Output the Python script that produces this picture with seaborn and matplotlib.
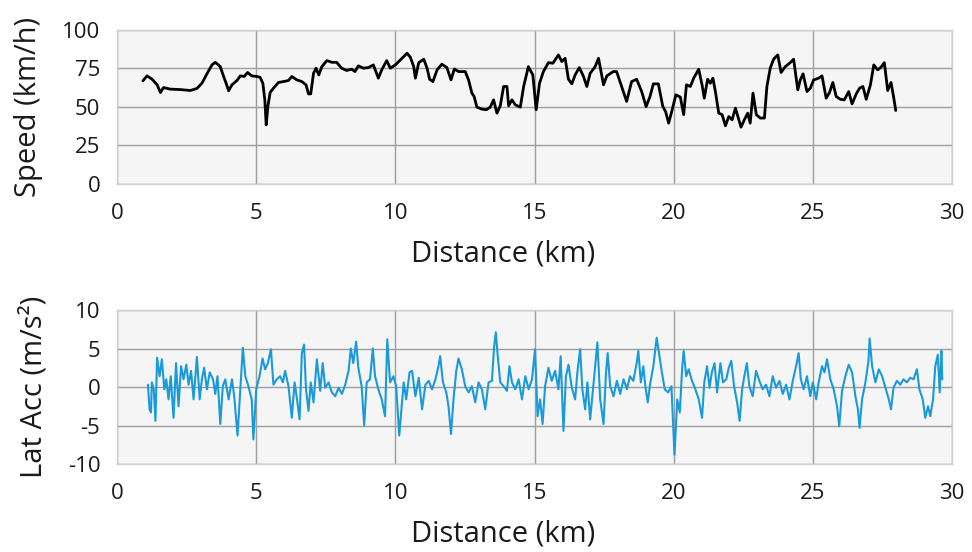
import numpy as np
import pandas as pd
import seaborn as sns
import matplotlib.pyplot as plt

# =========================
# DADOS
# =========================

dist_vel = [0.93, 1.08, 1.26, 1.44, 1.56, 1.67, 1.91, 2.27, 2.63, 2.87, 3.05, 3.23, 3.41, 3.53,
            3.71, 3.83, 3.92, 4.01, 4.13, 4.31, 4.43, 4.57, 4.69, 4.84, 5.02, 5.14, 5.24, 5.31,
            5.36, 5.42, 5.50, 5.62, 5.80, 5.98, 6.16, 6.28, 6.46, 6.64, 6.79, 6.88, 6.96, 7.06,
            7.15, 7.25, 7.36, 7.54, 7.72, 7.89, 8.07, 8.25, 8.43, 8.55, 8.67, 8.85, 9.03, 9.21,
            9.39, 9.51, 9.69, 9.82, 10.0, 10.18, 10.42, 10.54, 10.66, 10.72, 10.84, 11.02, 11.14,
            11.23, 11.35, 11.50, 11.67, 11.85, 12.0, 12.12, 12.27, 12.51, 12.63, 12.75, 12.83,
            12.93, 13.11, 13.27, 13.41, 13.53, 13.65, 13.77, 13.89, 14.01, 14.07, 14.19, 14.31,
            14.49, 14.61, 14.78, 14.94, 15.06, 15.18, 15.32, 15.50, 15.66, 15.86, 15.98, 16.10,
            16.22, 16.34, 16.46, 16.61, 16.76, 16.88, 17.0, 17.18, 17.30, 17.38, 17.48, 17.60,
            17.83, 17.95, 18.05, 18.19, 18.31, 18.49, 18.67, 18.85, 19.01, 19.15, 19.27, 19.45,
            19.61, 19.71, 19.82, 19.93, 20.08, 20.24, 20.36, 20.46, 20.60, 20.72, 20.90, 21.02,
            21.10, 21.22, 21.32, 21.41, 21.50, 21.62, 21.74, 21.86, 21.98, 22.10, 22.22, 22.34,
            22.42, 22.54, 22.66, 22.75, 22.85, 22.97, 23.11, 23.26, 23.35, 23.47, 23.59, 23.74,
            23.86, 24.01, 24.19, 24.31, 24.46, 24.55, 24.65, 24.79, 24.91, 25.03, 25.21, 25.33,
            25.48, 25.60, 25.72, 25.84, 25.99, 26.13, 26.29, 26.41, 26.56, 26.68, 26.80, 26.92,
            27.07, 27.19, 27.33, 27.45, 27.57, 27.69, 27.81, 27.90, 27.98]

velocidade = [67.0, 70.2, 68.0, 64.4, 59.4, 62.6, 61.6, 61.3, 60.7, 62.0, 65.4, 71.5, 77.3, 79.0,
              76.2, 69.8, 65.4, 60.5, 64.4, 67.2, 70.2, 69.8, 72.4, 70.2, 69.8, 69.3, 65.4, 54.6,
              38.4, 50.3, 59.4, 62.2, 65.9, 66.5, 67.2, 69.8, 67.6, 66.5, 64.4, 58.5, 58.5, 71.9,
              75.2, 70.8, 76.2, 80.1, 79.0, 79.0, 75.2, 73.7, 74.5, 73.0, 76.7, 75.2, 75.6, 77.3,
              68.7, 74.1, 80.1, 75.2, 77.3, 80.6, 84.9, 82.3, 76.2, 68.7, 78.8, 81.0, 75.2,
              68.0, 66.5, 74.1, 77.8, 75.6, 67.6, 74.7, 73.0, 73.0, 67.6, 59.0, 56.8,
              49.9, 48.6, 48.2, 49.9, 54.6, 46.0, 50.8, 63.3, 63.3, 50.8, 54.6, 51.4,
              49.9, 63.3, 76.2, 70.8, 48.2, 65.4, 73.0, 78.8, 78.4, 83.8, 79.5, 81.6,
              68.0, 65.0, 70.8, 75.6, 69.8, 63.3, 71.9, 76.2, 81.6, 74.1, 64.4, 70.2,
              73.0, 73.0, 67.6, 60.0, 53.6, 66.5, 68.0, 60.0, 50.3, 56.8, 65.0, 65.0,
              50.3, 47.0, 39.5, 47.0, 57.9, 56.4, 45.0, 64.4, 63.3, 68.7, 74.5, 64.4,
              55.7, 68.0, 65.4, 68.7, 60.0, 46.0, 45.0, 37.8, 43.8, 41.7, 49.2, 41.7,
              36.9, 41.7, 46.0, 39.5, 59.0, 45.0, 42.8, 42.8, 63.3, 75.2, 81.0, 83.8,
              72.4, 76.2, 78.8, 81.0, 61.1, 67.6, 71.5, 60.0, 62.2, 67.6, 68.7, 70.2,
              55.7, 59.4, 65.9, 56.8, 55.0, 54.6, 60.0, 52.0, 58.5, 62.2, 63.3, 55.0,
              64.4, 77.3, 74.1, 75.8, 78.8, 60.7, 65.9, 56.8, 47.7]

dist_acc = [1.11, 1.17, 1.22, 1.25, 1.32, 1.38, 1.44, 1.53, 1.61, 1.70, 1.77, 1.85, 1.93, 2.03,
            2.12, 2.21, 2.30, 2.39, 2.49, 2.57, 2.66, 2.75, 2.87, 2.97, 3.05, 3.13, 3.23, 3.33,
            3.45, 3.53, 3.61, 3.71, 3.80, 3.89, 4.01, 4.13, 4.21, 4.33, 4.43, 4.52, 4.61, 4.72,
            4.84, 4.90, 5.00, 5.12, 5.23, 5.32, 5.42, 5.53, 5.62, 5.74, 5.86, 5.96, 6.04, 6.16,
            6.28, 6.38, 6.46, 6.56, 6.64, 6.72, 6.79, 6.88, 6.96, 7.06, 7.18, 7.30, 7.39, 7.48,
            7.60, 7.72, 7.84, 7.96, 8.08, 8.20, 8.32, 8.40, 8.49, 8.59, 8.67, 8.79, 8.88, 8.97,
            9.09, 9.19, 9.27, 9.39, 9.51, 9.63, 9.71, 9.81, 9.93, 10.03, 10.14, 10.30, 10.39,
            10.51, 10.60, 10.72, 10.84, 10.96, 11.08, 11.20, 11.32, 11.44, 11.55, 11.61, 11.71,
            11.83, 11.91, 12.0, 12.09, 12.19, 12.27, 12.39, 12.51, 12.63, 12.75, 12.87, 12.99,
            13.11, 13.23, 13.35, 13.47, 13.55, 13.61, 13.67, 13.77, 13.89, 14.01, 14.10, 14.19,
            14.31, 14.43, 14.55, 14.67, 14.79, 14.91, 15.02, 15.11, 15.20, 15.29, 15.38, 15.50,
            15.62, 15.74, 15.86, 15.94, 16.04, 16.13, 16.22, 16.34, 16.46, 16.54, 16.64, 16.72,
            16.82, 16.90, 17.0, 17.17, 17.26, 17.36, 17.48, 17.57, 17.63, 17.72, 17.84, 17.96,
            18.08, 18.20, 18.32, 18.43, 18.55, 18.67, 18.73, 18.82, 18.91, 18.99, 19.07, 19.15,
            19.27, 19.39, 19.48, 19.56, 19.68, 19.80, 19.92, 20.03, 20.13, 20.22, 20.31, 20.36,
            20.45, 20.54, 20.66, 20.78, 20.90, 21.02, 21.10, 21.20, 21.29, 21.37, 21.47, 21.56,
            21.68, 21.77, 21.89, 21.98, 22.07, 22.17, 22.28, 22.37, 22.46, 22.54, 22.63, 22.72,
            22.84, 22.96, 23.08, 23.20, 23.32, 23.44, 23.56, 23.68, 23.80, 23.92, 24.04, 24.16,
            24.28, 24.41, 24.49, 24.57, 24.67, 24.79, 24.91, 25.0, 25.12, 25.21, 25.33, 25.42,
            25.51, 25.63, 25.75, 25.87, 25.95, 26.05, 26.17, 26.29, 26.41, 26.53, 26.62, 26.68,
            26.77, 26.89, 27.0, 27.04, 27.13, 27.25, 27.37, 27.49, 27.61, 27.73, 27.81, 27.90,
            28.02, 28.14, 28.26, 28.38, 28.50, 28.62, 28.74, 28.83, 28.95, 29.04, 29.14, 29.22,
            29.32, 29.40, 29.49, 29.56, 29.62, 29.65]

acel_lat = [0.3, -2.9, -3.3, 0.6, -0.3, -4.4, 3.8, 1.4, 3.6, -0.3, 1.0, -1.6, 1.4, -4.0,
            3.1, -2.5, 2.7, 1.0, 2.9, 0.3, 2.1, -1.6, 3.9, -1.6, 1.0, 2.5, -0.3, 1.9,
            1.0, -0.9, 1.4, -4.8, 0.1, 1.0, -1.6, 1.0, -1.2, -6.3, -0.3, 5.1, 1.4, 0.1,
            -1.6, -6.8, -0.3, 1.4, 3.7, 2.3, 3.1, 4.9, 0.3, 1.0, 1.4, 0.6, 2.1, 0.1,
            -4.0, 0.6, -1.4, -4.2, 4.4, 5.5, -0.3, -3.1, 0.6, -2.0, 3.6, -0.5, 3.1, -0.1,
            0.6, -0.7, -1.2, -0.1, -0.9, 0.3, 2.1, 5.0, 3.1, 5.9, 2.5, 0.1, -5.0, 0.6,
            1.0, 5.0, 1.4, -0.3, -1.6, -3.8, 6.2, 0.6, 1.4, 0.1, -6.3, 0.6, -1.6,
            1.9, 2.1, -1.2, 1.2, -2.9, 0.3, 0.8, -0.3, 1.0, 2.7, 4.0, 0.6,
            -0.7, -2.5, -6.1, -1.6, 2.1, 3.7, 2.3, 0.1, -0.7, 0.1, -2.0, 0.6,
            -0.3, -2.9, 0.6, 0.8, 5.3, 7.1, 4.4, 0.6, 0.1, -0.5, 2.7, 0.6,
            -0.3, 1.0, -1.6, 1.4, -0.3, 1.0, 4.9, -3.8, -1.6, -4.8, 0.1, 2.5,
            0.8, 2.1, -0.3, 4.0, -5.7, 1.4, 2.9, -0.1, -1.6, 1.9, 4.9, -0.3,
            -2.9, 0.6, -4.2, 2.3, 5.8, -1.6, -4.8, 1.9, 4.4, 0.1, -1.2, 0.8,
            -0.9, 1.0, -0.3, 1.4, 0.8, 3.1, 4.7, 0.6, 2.7, -0.1, -2.0, 0.3,
            2.7, 6.4, 4.2, 2.3, -0.3, -0.7, 0.1, -8.8, -1.6, -3.3, 2.7, 4.7,
            1.4, 2.3, 0.8, -0.3, -1.6, -4.0, 0.6, 2.7, -0.1, 1.9, 3.1, -0.7,
            3.1, 0.6, 1.0, 2.5, 3.4, 0.1, -2.0, -4.4, -0.3, 1.4, 3.1, 0.1,
            -1.2, 2.1, 0.8, -0.3, 0.3, -1.2, 1.4, -0.1, 0.8, -0.9, 0.3, -1.6,
            0.8, 2.9, 4.4, 1.0, -0.3, 1.4, -1.2, 0.6, -1.6, 0.6, 2.7, 1.9,
            3.6, 1.0, -0.3, -2.5, -5.1, -0.5, 1.4, 2.9, 1.9, -1.2, -2.9, -5.3,
            -1.6, 0.6, 3.4, 6.3, 2.7, 0.6, 2.3, 1.4, -0.1, -1.6, -2.9, -0.1,
            0.8, 0.3, 1.0, 0.6, 1.2, 1.0, 2.3, -0.3, -1.6, -4.0, -2.5, -3.8,
            -1.6, 2.7, 4.2, -0.7, 4.7, 1.0]

df_vel = pd.DataFrame({'dist': dist_vel, 'vel': velocidade})
df_acc = pd.DataFrame({'dist': dist_acc, 'acc': acel_lat})

# =========================
# ESTILO
# =========================

sns.set_style('whitegrid')
plt.rcParams['font.family'] = ['Open Sans', 'DejaVu Sans']
plt.rcParams['axes.unicode_minus'] = False

fig = plt.figure(figsize=(9.72, 5.52), dpi=100)
ax1 = fig.add_axes([0.1204, 0.6667, 0.859, 0.279])
ax2 = fig.add_axes([0.1204, 0.1594, 0.859, 0.279])

# =========================
# VELOCIDADE
# =========================

sns.lineplot(data=df_vel, x='dist', y='vel', ax=ax1, color='black',
             linewidth=2.0, sort=False, estimator=None)
ax1.set_ylim(0, 100)
ax1.set_yticks([0, 25, 50, 75, 100])
ax1.set_ylabel('Speed (km/h)', fontsize=21, labelpad=14, color='#1a1a1a')

# =========================
# ACELERAÇÃO LATERAL
# =========================

sns.lineplot(data=df_acc, x='dist', y='acc', ax=ax2, color='#1a9ad9',
             linewidth=1.5, sort=False, estimator=None)
ax2.set_ylim(-10, 10)
ax2.set_yticks([-10, -5, 0, 5, 10])
ax2.set_ylabel('Lat Acc (m/s²)', fontsize=21, labelpad=14, color='#1a1a1a')

for ax in (ax1, ax2):
    ax.set_xlim(0, 30)
    ax.set_xticks([0, 5, 10, 15, 20, 25, 30])
    ax.set_xlabel('Distance (km)', fontsize=21, labelpad=12, color='#1a1a1a')
    ax.xaxis.set_label_coords(0.463, -0.36)
    ax.set_facecolor('#f5f5f5')
    ax.grid(True, color='#9e9e9e', linewidth=1)
    ax.tick_params(axis='y', length=0, labelsize=16, pad=12, colors='#1a1a1a')
    ax.tick_params(axis='x', length=0, labelsize=16, pad=14, colors='#1a1a1a')
    for s in ax.spines.values():
        s.set_color('#d0d0d0')
        s.set_linewidth(1)

plt.savefig('out.png', dpi=100)
